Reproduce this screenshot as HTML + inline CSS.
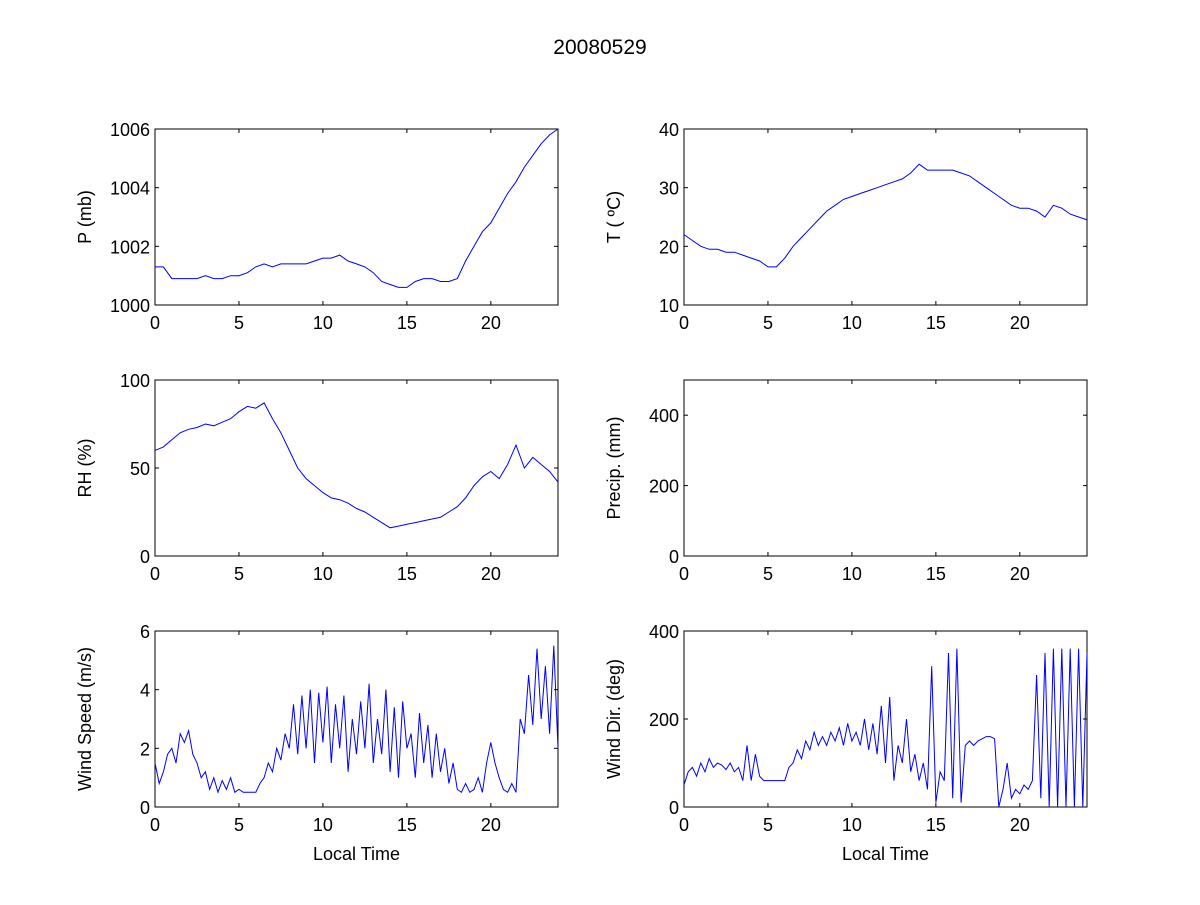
<!DOCTYPE html>
<html><head><meta charset="utf-8"><style>
body{margin:0;background:#fff;}
svg text{font-family:"Liberation Sans",sans-serif;fill:#000;}
</style></head><body>
<svg id="fig" width="1200" height="900" xmlns="http://www.w3.org/2000/svg">
<rect width="1200" height="900" fill="#fff"/>
<text x="600" y="54" font-size="21" text-anchor="middle">20080529</text>
</svg>
<script>
const pressure = [1001.3,1001.3,1000.9,1000.9,1000.9,1000.9,1001.0,1000.9,1000.9,1001.0,1001.0,1001.1,1001.3,1001.4,1001.3,1001.4,1001.4,1001.4,1001.4,1001.5,1001.6,1001.6,1001.7,1001.5,1001.4,1001.3,1001.1,1000.8,1000.7,1000.6,1000.6,1000.8,1000.9,1000.9,1000.8,1000.8,1000.9,1001.5,1002.0,1002.5,1002.8,1003.3,1003.8,1004.2,1004.7,1005.1,1005.5,1005.8,1006.0];
const temperature = [22,21,20,19.5,19.5,19,19,18.5,18,17.5,16.5,16.5,18,20,21.5,23,24.5,26,27,28,28.5,29,29.5,30,30.5,31,31.5,32.5,34,33,33,33,33,32.5,32,31,30,29,28,27,26.5,26.5,26,25,27,26.5,25.5,25,24.5];
const humidity = [60,62,66,70,72,73,75,74,76,78,82,85,84,87,78,70,60,50,44,40,36,33,32,30,27,25,22,19,16,17,18,19,20,21,22,25,28,33,40,45,48,44,52,63,50,56,52,48,42];
const windSpeed = [1.5,0.8,1.2,1.8,2.0,1.5,2.5,2.2,2.6,
1.8,1.5,1.0,1.2,0.6,1.0,0.5,0.9,
0.6,1.0,0.5,0.6,0.5,0.5,0.5,0.5,
0.8,1.0,1.5,1.2,2.0,1.6,2.5,2.0,
3.5,1.8,3.8,2.0,4.0,1.5,3.9,2.2,
4.1,1.5,3.5,2.0,3.8,1.2,3.0,1.8,
3.6,2.0,4.2,1.5,3.0,1.8,4.0,1.2,
3.4,1.0,3.6,2.0,2.5,1.0,3.2,1.5,
2.8,1.0,2.5,1.2,2.0,0.8,1.5,0.6,
0.5,0.8,0.5,0.6,1.0,0.5,1.5,2.2,
1.5,1.0,0.6,0.5,0.8,0.5,3.0,2.5,
4.5,2.8,5.4,3.0,4.8,2.5,5.5,2.0];
const windDir = [50,80,90,70,100,80,110,90,100,
95,85,100,80,90,60,140,60,
120,70,60,60,60,60,60,60,
90,100,130,110,150,130,170,140,
160,140,170,150,180,140,190,150,
170,140,200,130,190,120,230,100,
250,60,140,100,200,80,120,60,
100,40,320,10,80,60,350,20,
360,10,140,150,140,150,155,160,
160,155,0,40,100,20,40,30,
50,40,60,300,20,350,0,360,
0,360,0,360,0,360,0,350];
const precip = [];
const xTicks = [0,5,10,15,20];

const NS="http://www.w3.org/2000/svg";
const svg=document.getElementById('fig');
function mk(tag,attrs,parent){const e=document.createElementNS(NS,tag);for(const k in attrs)e.setAttribute(k,attrs[k]);(parent||svg).appendChild(e);return e;}

const panels=[
 {name:'pressure',x0:155,y0:129,ymin:1000,ymax:1006,yt:[1000,1002,1004,1006],label:'P (mb)',data:pressure,xl:false},
 {name:'temperature',x0:684,y0:129,ymin:10,ymax:40,yt:[10,20,30,40],label:'T ( ºC)',data:temperature,xl:false},
 {name:'humidity',x0:155,y0:380,ymin:0,ymax:100,yt:[0,50,100],label:'RH (%)',data:humidity,xl:false},
 {name:'precip',x0:684,y0:380,ymin:0,ymax:500,yt:[0,200,400],label:'Precip. (mm)',data:precip,xl:false},
 {name:'wind-speed',x0:155,y0:631,ymin:0,ymax:6,yt:[0,2,4,6],label:'Wind Speed (m/s)',data:windSpeed,xl:true},
 {name:'wind-dir',x0:684,y0:631,ymin:0,ymax:400,yt:[0,200,400],label:'Wind Dir. (deg)',data:windDir,xl:true},
];
const W=403,H=176;
panels.forEach(p=>{
 const g=mk('g',{});
 
 
 const sx=v=>p.x0+v/24*W;
 const sy=v=>p.y0+H-(v-p.ymin)/(p.ymax-p.ymin)*H;
 mk('rect',{x:p.x0,y:p.y0,width:W,height:H,fill:'#fff',stroke:'#000','stroke-width':1},g);
 xTicks.forEach(t=>{
  const x=sx(t);
  mk('line',{x1:x,y1:p.y0+H,x2:x,y2:p.y0+H-4,stroke:'#000'},g);
  mk('line',{x1:x,y1:p.y0,x2:x,y2:p.y0+4,stroke:'#000'},g);
  const tx=mk('text',{x:x,y:p.y0+H+24,'font-size':18,'text-anchor':'middle'},g);
  tx.textContent=t;
  
  
 });
 p.yt.forEach(t=>{
  const y=sy(t);
  mk('line',{x1:p.x0,y1:y,x2:p.x0+4,y2:y,stroke:'#000'},g);
  mk('line',{x1:p.x0+W,y1:y,x2:p.x0+W-4,y2:y,stroke:'#000'},g);
  const tx=mk('text',{x:p.x0-5,y:y+7,'font-size':18,'text-anchor':'end'},g);
  tx.textContent=t;
  
  
 });
 const lx=p.x0-64, ly=p.y0+H/2;
 const lab=mk('text',{x:lx,y:ly,'font-size':18,'text-anchor':'middle',transform:`rotate(-90 ${lx} ${ly})`},g);
 lab.textContent=p.label;
 
 
 if(p.xl){
  const xt=mk('text',{x:p.x0+W/2,y:p.y0+H+53,'font-size':18,'text-anchor':'middle'},g);
  xt.textContent='Local Time';
  
  
 }
 if(p.data.length){
  const n=p.data.length;
  const pts=p.data.map((v,i)=>sx(i*24/(n-1)).toFixed(1)+','+sy(v).toFixed(1)).join(' ');
  const pl=mk('polyline',{points:pts,fill:'none',stroke:'#0000ff','stroke-width':1},g);
  
  
 }
});
</script>
</body></html>
